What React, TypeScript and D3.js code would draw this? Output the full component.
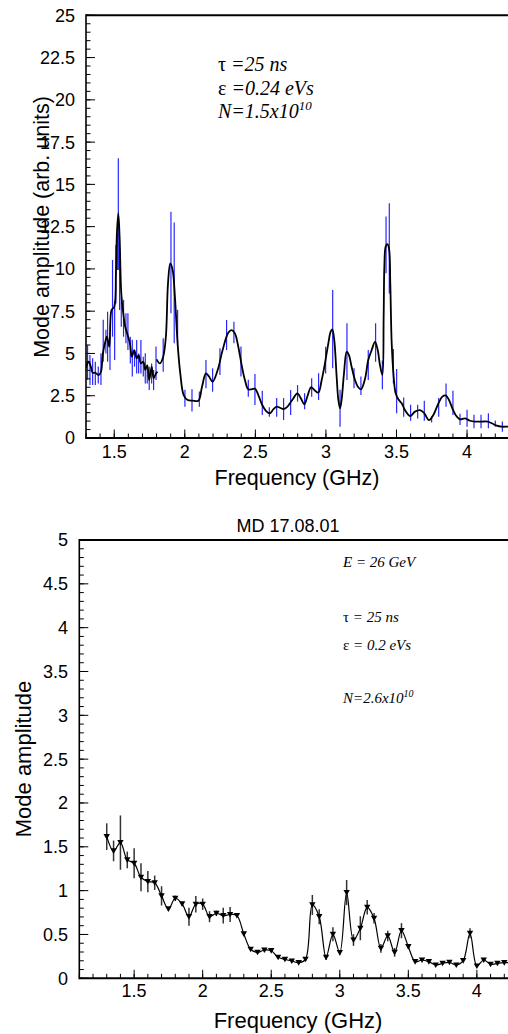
import React from 'react';
import * as d3 from 'd3';

// ---------- Top panel data ----------
const topXTicks = [1.5, 2, 2.5, 3, 3.5, 4];
const topYTicks = [0, 2.5, 5, 7.5, 10, 12.5, 15, 17.5, 20, 22.5, 25];

// measured points with errors (blue)
const topBarFreq = [
  1.311, 1.328, 1.347, 1.366, 1.387, 1.406, 1.422, 1.441, 1.453, 1.47, 1.488, 1.503, 1.512, 1.522, 1.529,
  1.538, 1.55, 1.566, 1.583, 1.597, 1.614, 1.628, 1.644, 1.659, 1.673, 1.689, 1.706, 1.72, 1.734, 1.748,
  1.765, 1.779, 1.796, 1.847, 1.902, 1.925, 1.949, 2.001, 2.051, 2.103, 2.15, 2.197, 2.249, 2.296, 2.348,
  2.398, 2.45, 2.497, 2.549, 2.599, 2.651, 2.7, 2.75, 2.799, 2.849, 2.899, 2.948, 2.998, 3.048, 3.1,
  3.149, 3.199, 3.248, 3.3, 3.352, 3.4, 3.426, 3.449, 3.478, 3.501, 3.551, 3.6, 3.65, 3.697, 3.749,
  3.799, 3.851, 3.9, 3.95, 4.0, 4.049, 4.099, 4.151, 4.2, 4.25,
];
const topBarValue = [
  4.47, 4.02, 3.92, 3.82, 3.73, 4.07, 5.75, 5.7, 5.99, 5.01, 8.26, 6.34, 9.69, 11.02, 13.24,
  9.44, 7.47, 7.08, 6.49, 6.29, 5.2, 4.72, 4.71, 4.81, 4.41, 4.81, 4.22, 4.12, 3.78, 3.53,
  3.82, 3.43, 4.42, 4.91, 10.38, 9.17, 6.59, 2.35, 2.22, 2.3, 3.78, 3.43, 4.52, 6.09, 6.24,
  4.52, 2.94, 2.87, 2.08, 1.54, 1.81, 1.71, 2.1, 2.64, 2.17, 2.99, 3.04, 4.61, 6.44, 1.76,
  5.11, 3.53, 3.09, 4.32, 5.65, 3.73, 11.42, 11.22, 4.25, 2.77, 1.83, 1.49, 1.56, 1.61, 1.09,
  1.81, 2.54, 2.08, 1.1, 1.17, 0.97, 0.97, 1.02, 0.85, 0.67,
];
const topBarError = [
  1.03, 0.89, 0.79, 0.69, 0.5, 0.94, 1.24, 0.7, 1.48, 0.99, 2.27, 1.73, 1.73, 1.09, 3.31,
  1.87, 0.89, 1.09, 0.89, 1.09, 0.79, 1.09, 0.49, 0.99, 0.59, 0.99, 0.59, 0.89, 0.55, 0.69,
  0.59, 0.59, 0.99, 0.99, 3.0, 3.57, 0.99, 0.5, 0.66, 0.45, 0.84, 0.69, 0.79, 0.89, 0.64,
  0.89, 0.5, 0.92, 0.72, 0.28, 0.55, 0.65, 0.74, 0.49, 0.47, 0.55, 0.79, 0.79, 2.32, 1.09,
  1.68, 0.59, 0.55, 0.89, 1.14, 0.85, 1.68, 2.67, 1.02, 1.31, 0.57, 0.47, 0.4, 0.59, 0.18,
  0.55, 0.69, 0.72, 0.33, 0.5, 0.4, 0.4, 0.45, 0.18, 0.3,
];

// black curve, low frequency part (follows data)
const topLowFreq = [
  1.299, 1.318, 1.333, 1.347, 1.366, 1.389, 1.406, 1.418, 1.434, 1.448, 1.465, 1.481, 1.5, 1.512, 1.519,
  1.529, 1.538, 1.55, 1.564, 1.578, 1.595, 1.611, 1.625, 1.642, 1.659, 1.673, 1.689, 1.706, 1.72, 1.734,
  1.748, 1.765, 1.779, 1.796, 1.807,
];
const topLowValue = [
  4.12, 4.51, 4.26, 3.86, 3.86, 3.72, 3.92, 4.9, 5.6, 5.99, 5.4, 7.57, 7.76, 9.73, 12.1,
  13.28, 11.9, 8.55, 7.37, 6.58, 6.09, 5.6, 4.81, 5.2, 4.71, 4.9, 4.41, 4.51, 4.02, 4.3,
  3.43, 4.22, 3.53, 3.82, 3.92,
];

// black curve, smooth part
const topFitFreq = [
  1.8, 1.824, 1.847, 1.866, 1.881, 1.897, 1.914, 1.93, 1.949, 1.968, 1.992, 2.02, 2.055, 2.096, 2.122,
  2.15, 2.173, 2.197, 2.233, 2.268, 2.308, 2.332, 2.355, 2.379, 2.403, 2.426, 2.45, 2.474, 2.497, 2.521,
  2.549, 2.58, 2.603, 2.627, 2.651, 2.674, 2.698, 2.722, 2.745, 2.769, 2.797, 2.823, 2.847, 2.87, 2.894,
  2.918, 2.946, 2.97, 2.993, 3.017, 3.033, 3.045, 3.059, 3.076, 3.088, 3.1, 3.111, 3.128, 3.147, 3.163,
  3.182, 3.206, 3.229, 3.248, 3.277, 3.3, 3.324, 3.348, 3.367, 3.383, 3.4, 3.409, 3.414, 3.423, 3.435,
  3.447, 3.456, 3.466, 3.48, 3.494, 3.513, 3.537, 3.56, 3.596, 3.631, 3.667, 3.697, 3.73, 3.761, 3.797,
  3.825, 3.848, 3.872, 3.896, 3.919, 3.95, 3.985, 4.021, 4.056, 4.104, 4.146, 4.175, 4.21, 4.245, 4.29,
  4.31,
];
const topFitValue = [
  4.65, 4.41, 4.81, 5.99, 9.14, 10.32, 9.93, 8.35, 5.6, 3.82, 2.54, 2.25, 2.21, 2.2, 3.03,
  3.82, 3.62, 3.33, 4.02, 5.2, 6.22, 6.38, 6.19, 5.4, 4.31, 3.43, 2.88, 2.88, 2.92, 2.54,
  1.95, 1.56, 1.46, 1.69, 1.85, 1.79, 1.71, 1.81, 2.05, 2.34, 2.64, 2.34, 2.0, 2.5, 3.0,
  2.84, 2.68, 3.43, 4.41, 5.6, 6.28, 6.42, 5.79, 3.62, 2.25, 1.75, 2.25, 3.82, 5.1, 4.9,
  4.21, 3.43, 3.0, 2.88, 3.5, 4.61, 5.2, 5.69, 5.2, 4.31, 3.72, 7.17, 10.13, 11.31, 11.47,
  11.21, 9.14, 5.6, 3.62, 2.64, 2.29, 2.05, 1.65, 1.3, 1.56, 1.65, 1.46, 1.06, 1.36, 2.05,
  2.45, 2.52, 2.25, 1.75, 1.36, 1.1, 1.16, 1.02, 0.97, 0.97, 0.97, 0.87, 0.73, 0.67, 0.67,
  0.66,
];

// ---------- Bottom panel data ----------
const botXTicks = [1.5, 2, 2.5, 3, 3.5, 4];
const botYTicks = [0, 0.5, 1, 1.5, 2, 2.5, 3, 3.5, 4, 4.5, 5];
const botFreq = [
  1.3, 1.35, 1.4, 1.45, 1.5, 1.55, 1.6, 1.65, 1.7, 1.75, 1.8, 1.85, 1.9, 1.95, 2.0,
  2.05, 2.1, 2.15, 2.2, 2.25, 2.3, 2.35, 2.4, 2.45, 2.5, 2.55, 2.6, 2.65, 2.7, 2.75,
  2.8, 2.85, 2.9, 2.95, 3.0, 3.05, 3.1, 3.15, 3.2, 3.25, 3.3, 3.35, 3.4, 3.45, 3.5,
  3.55, 3.6, 3.65, 3.7, 3.75, 3.8, 3.85, 3.9, 3.95, 4.0, 4.05, 4.1, 4.15, 4.2, 4.25,
];
const botValue = [
  1.616, 1.453, 1.548, 1.35, 1.312, 1.153, 1.103, 1.09, 0.94, 0.791, 0.913, 0.848, 0.703, 0.845, 0.845,
  0.703, 0.742, 0.715, 0.728, 0.715, 0.506, 0.331, 0.296, 0.323, 0.315, 0.24, 0.217, 0.197, 0.178, 0.217,
  0.837, 0.703, 0.24, 0.502, 0.293, 0.978, 0.437, 0.571, 0.81, 0.685, 0.342, 0.483, 0.296, 0.543, 0.361,
  0.19, 0.209, 0.19, 0.152, 0.171, 0.182, 0.152, 0.201, 0.513, 0.14, 0.209, 0.16, 0.171, 0.178, 0.18,
];
const botError = [
  0.152, 0.118, 0.31, 0.095, 0.171, 0.16, 0.122, 0.082, 0.11, 0.02, 0.03, 0.02, 0.103, 0.095, 0.065,
  0.063, 0.03, 0.09, 0.086, 0.02, 0.02, 0.015, 0.015, 0.015, 0.015, 0.015, 0.015, 0.015, 0.015, 0.015,
  0.114, 0.086, 0.03, 0.08, 0.03, 0.143, 0.067, 0.137, 0.082, 0.06, 0.05, 0.06, 0.05, 0.086, 0.02,
  0.015, 0.015, 0.015, 0.015, 0.015, 0.015, 0.015, 0.015, 0.057, 0.015, 0.015, 0.015, 0.015, 0.015, 0.015,
];

const SANS = '"Liberation Sans", Arial, Helvetica, sans-serif';
const SERIF = '"Liberation Serif", "Times New Roman", serif';

const W = 508;
const H = 1034;

type Sc = d3.ScaleLinear<number, number>;

function Frame({ x, y, xMajor, xMinor, yMajor, yMinor, xLabelY, yLabelX }: {
  x: Sc; y: Sc; xMajor: number[]; xMinor: number[]; yMajor: number[]; yMinor: number[]; xLabelY: number; yLabelX: number;
}) {
  const [x0, x1] = x.range();
  const [y0, y1] = y.range();
  return (
    <g>
      {/* axes lines */}
      <line x1={x0} x2={W + 20} y1={y1} y2={y1} stroke="#000" strokeWidth={2} />
      <line x1={x0} x2={W + 20} y1={y0} y2={y0} stroke="#000" strokeWidth={2} />
      <line x1={x0} x2={x0} y1={y0 + 1} y2={y1 - 1} stroke="#000" strokeWidth={1.6} />
      {xMinor.map((v, i) => (
        <line key={'xm' + i} x1={x(v)} x2={x(v)} y1={y0} y2={y0 - 4.5} stroke="#000" strokeWidth={1} />
      ))}
      {xMajor.map((v, i) => (
        <g key={'xM' + i}>
          <line x1={x(v)} x2={x(v)} y1={y0} y2={y0 - 8.5} stroke="#000" strokeWidth={1} />
          <text x={x(v)} y={xLabelY} textAnchor="middle" fontFamily={SANS} fontSize={18}>{String(v)}</text>
        </g>
      ))}
      {yMinor.map((v, i) => (
        <line key={'ym' + i} x1={x0} x2={x0 + 4.5} y1={y(v)} y2={y(v)} stroke="#000" strokeWidth={1} />
      ))}
      {yMajor.map((v, i) => (
        <g key={'yM' + i}>
          <line x1={x0} x2={x0 + 9} y1={y(v)} y2={y(v)} stroke="#000" strokeWidth={1} />
          <text x={yLabelX} y={y(v)} dy="0.36em" textAnchor="end" fontFamily={SANS} fontSize={18}>{String(v)}</text>
        </g>
      ))}
    </g>
  );
}

export default function App() {
  // top panel scales
  const xT = d3.scaleLinear().domain([1.3, 4.3]).range([86, 509.4]);
  const yT = d3.scaleLinear().domain([0, 25]).range([438, 15.3]);
  // bottom panel scales
  const xB = d3.scaleLinear().domain([1.1, 4.3]).range([79.3, 518]);
  const yB = d3.scaleLinear().domain([0, 5]).range([978.3, 540]);

  const lineT = d3.line<number>()
    .curve(d3.curveCatmullRom.alpha(0.5));

  const lowPath = lineT(topLowFreq.map((f, i) => [xT(f), yT(topLowValue[i])] as any) as any) || '';
  const fitPath = lineT(topFitFreq.map((f, i) => [xT(f), yT(topFitValue[i])] as any) as any) || '';
  const botPath = lineT(botFreq.map((f, i) => [xB(f), yB(botValue[i])] as any) as any) || '';

  const tXMinor = d3.range(13, 44).map((v) => v / 10);
  const tYMinor = d3.range(0, 51).map((v) => v / 2);
  const bXMinor = d3.range(11, 44).map((v) => v / 10);
  const bYMinor = d3.range(0, 51).map((v) => v / 10);

  const tri = (cx: number, cy: number) => `M${cx - 3.2},${cy - 2.6}L${cx + 3.2},${cy - 2.6}L${cx},${cy + 3}Z`;

  return (
    <svg width={W} height={H} style={{ position: 'absolute', left: 0, top: 0, background: '#fff' }}>
      <rect x={0} y={0} width={W} height={H} fill="#fff" />
      <defs>
        <clipPath id="clipT"><rect x={86} y={15} width={430} height={423} /></clipPath>
        <clipPath id="clipB"><rect x={79} y={540} width={440} height={439} /></clipPath>
      </defs>

      {/* ---------- TOP PANEL ---------- */}
      <Frame x={xT} y={yT} xMajor={topXTicks} xMinor={tXMinor} yMajor={topYTicks} yMinor={tYMinor} xLabelY={458} yLabelX={75} />
      <g clipPath="url(#clipT)">
        {topBarFreq.map((f, i) => (
          <line key={'tb' + i} x1={xT(f)} x2={xT(f)} y1={yT(topBarValue[i] - topBarError[i])} y2={yT(topBarValue[i] + topBarError[i])}
            stroke="#0000ff" strokeWidth={1.2} strokeOpacity={0.85} />
        ))}
        <path d={lowPath} fill="none" stroke="#000" strokeWidth={1.8} />
        <path d={fitPath} fill="none" stroke="#000" strokeWidth={1.8} />
      </g>
      <text x={297} y={485} textAnchor="middle" fontFamily={SANS} fontSize={21.5}>Frequency (GHz)</text>
      <text transform="translate(49,227) rotate(-90)" textAnchor="middle" fontFamily={SANS} fontSize={21.5}>Mode amplitude (arb. units)</text>

      <g fontFamily={SERIF} fontSize={20}>
        <text x={218} y={71}><tspan>τ</tspan><tspan fontStyle="italic"> =25 ns</tspan></text>
        <text x={218} y={95}><tspan>ε</tspan><tspan fontStyle="italic"> =0.24 eVs</tspan></text>
        <text x={218} y={118} fontStyle="italic">N=1.5x10<tspan dy={-8} fontSize={13}>10</tspan></text>
      </g>

      {/* ---------- BOTTOM PANEL ---------- */}
      <text x={288} y={532} textAnchor="middle" fontFamily={SANS} fontSize={18}>MD 17.08.01</text>
      <Frame x={xB} y={yB} xMajor={botXTicks} xMinor={bXMinor} yMajor={botYTicks} yMinor={bYMinor} xLabelY={997} yLabelX={68} />
      <g clipPath="url(#clipB)">
        {botFreq.map((f, i) => (
          <line key={'be' + i} x1={xB(f)} x2={xB(f)} y1={yB(botValue[i] - botError[i])} y2={yB(botValue[i] + botError[i])}
            stroke="#333" strokeWidth={1.5} />
        ))}
        <path d={botPath} fill="none" stroke="#000" strokeWidth={1.2} />
        {botFreq.map((f, i) => (
          <path key={'bm' + i} d={tri(xB(f), yB(botValue[i]))} fill="#000" />
        ))}
      </g>
      <text x={298} y={1028} textAnchor="middle" fontFamily={SANS} fontSize={22}>Frequency (GHz)</text>
      <text transform="translate(31,759) rotate(-90)" textAnchor="middle" fontFamily={SANS} fontSize={22}>Mode amplitude</text>

      <g fontFamily={SERIF} fontSize={15}>
        <text x={343} y={567} fontStyle="italic">E = 26 GeV</text>
        <text x={343} y={622}><tspan>τ</tspan><tspan fontStyle="italic"> = 25 ns</tspan></text>
        <text x={343} y={650}><tspan>ε</tspan><tspan fontStyle="italic"> = 0.2 eVs</tspan></text>
        <text x={343} y={703} fontStyle="italic">N=2.6x10<tspan dy={-6} fontSize={10}>10</tspan></text>
      </g>
    </svg>
  );
}
